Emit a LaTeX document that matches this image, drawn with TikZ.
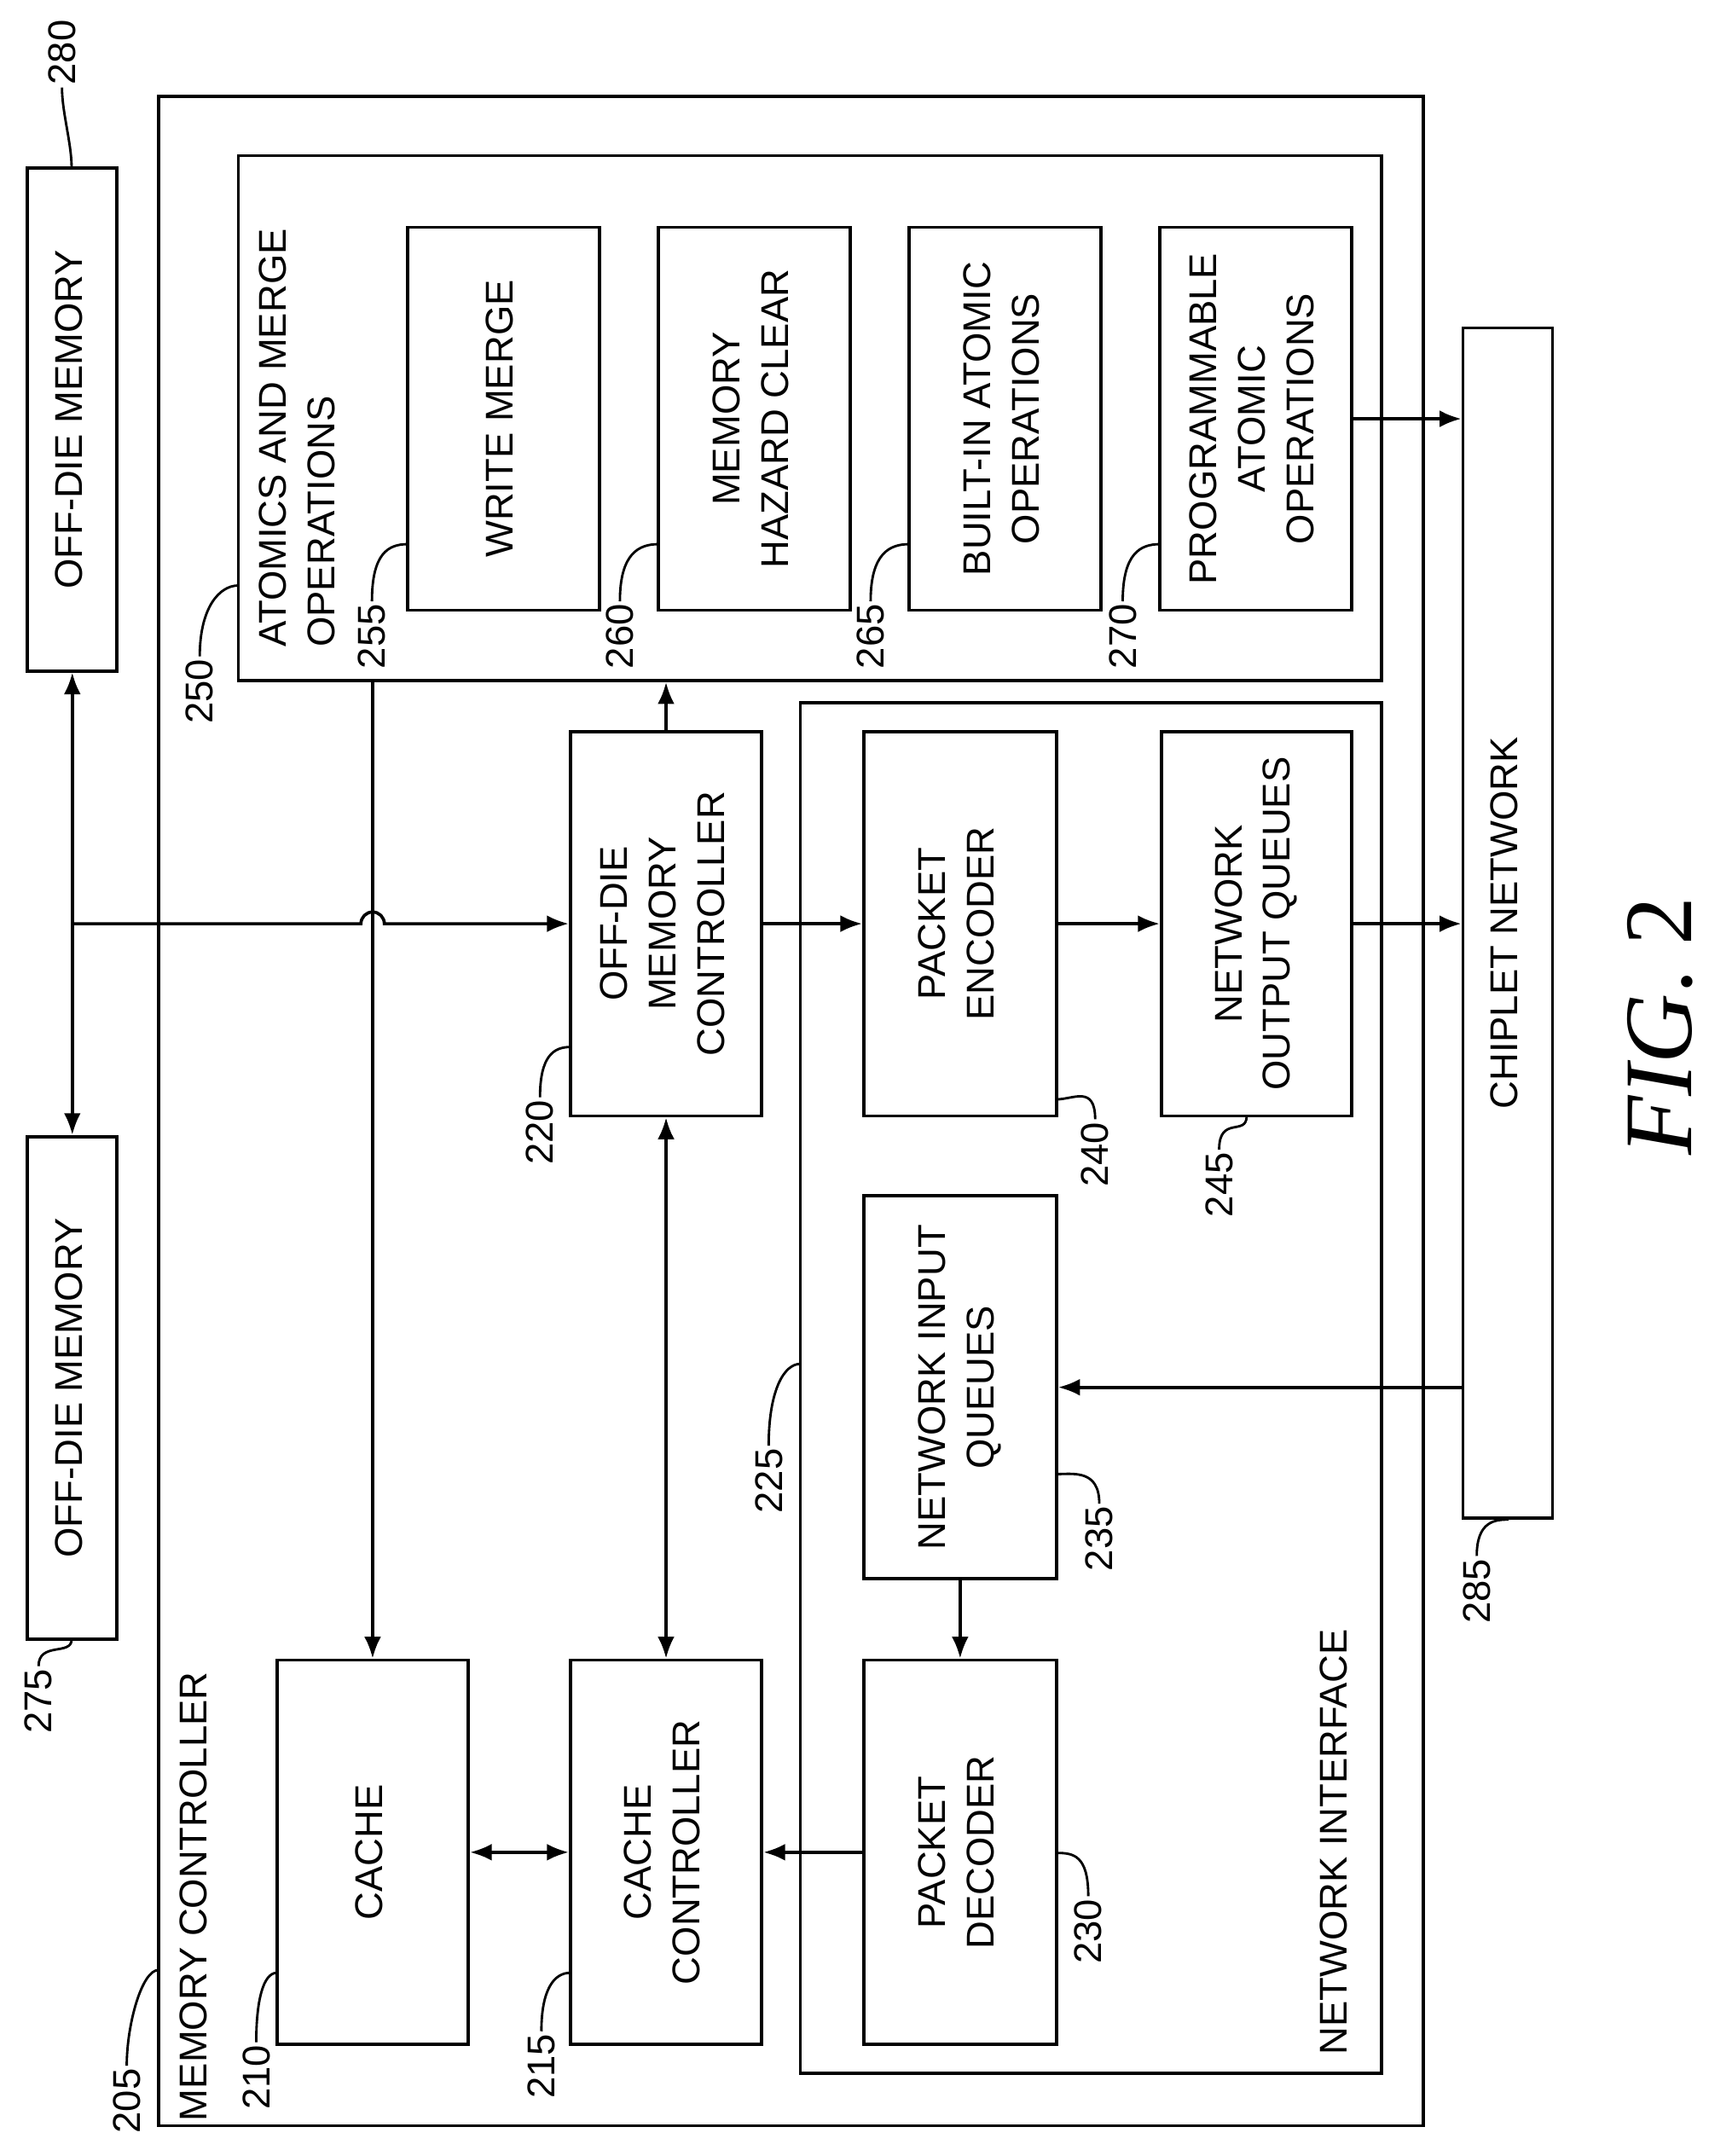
\documentclass[tikz,border=0pt]{standalone}
\usepackage{fontspec}
\setmainfont{Liberation Sans}
\newfontfamily\figfont{Liberation Serif}
\usetikzlibrary{arrows.meta}
\tikzset{
  box/.style={draw,line width=1.3pt,inner sep=0pt},
  num/.style={rotate=90,inner sep=1pt,font=\fontsize{16}{18}\selectfont},
  lbl/.style={rotate=90,inner sep=0pt,align=left,font=\fontsize{16}{20}\selectfont},
  arr/.style={line width=1.3pt,-{Latex[length=9pt,width=7pt]}},
  darr/.style={line width=1.3pt,{Latex[length=9pt,width=7pt]}-{Latex[length=9pt,width=7pt]}},
  lead/.style={line width=1pt}
}
\newcommand\blk[6]{\node[box,minimum width=#4*0.02cm,minimum height=#5*0.02cm,
  font=\fontsize{16}{20}\selectfont] (#1) at (#2,#3)
  {\rotatebox{90}{\begin{tabular}{@{}c@{}}#6\end{tabular}}};}
\begin{document}
\begin{tikzpicture}[x=0.02cm,y=-0.02cm]
\useasboundingbox (0,0) rectangle (1240,1565);

% outer blocks
\blk{mc}{574}{806.5}{918}{1473}{}
\blk{amo}{588}{303.5}{830}{381}{}
\blk{ni}{792}{1007.5}{422}{995}{}
\node[lbl,anchor=north west] (tmc) at (130,1540) {MEMORY CONTROLLER};
\node[lbl,anchor=north west] (tamo) at (188,470) {ATOMICS AND MERGE\\OPERATIONS};
\node[lbl,anchor=north west] (tni) at (958,1492) {NETWORK INTERFACE};

% memories and network
\blk{offb}{52.5}{304.5}{65}{365}{OFF-DIE MEMORY}
\blk{offa}{52.5}{1007.5}{65}{365}{OFF-DIE MEMORY}
\blk{cn}{1094.5}{670}{65}{864}{CHIPLET NETWORK}

% inner blocks
\blk{wm}{365.5}{304}{139}{278}{WRITE MERGE}
\blk{mhc}{547.5}{304}{139}{278}{MEMORY\\HAZARD CLEAR}
\blk{bia}{729.5}{304}{139}{278}{BUILT-IN ATOMIC\\OPERATIONS}
\blk{pao}{911.5}{304}{139}{278}{PROGRAMMABLE\\ATOMIC\\OPERATIONS}
\blk{odmc}{483.5}{670.5}{139}{279}{OFF-DIE\\MEMORY\\CONTROLLER}
\blk{pe}{697}{670.5}{140}{279}{PACKET\\ENCODER}
\blk{noq}{912}{670.5}{138}{279}{NETWORK\\OUTPUT QUEUES}
\blk{niq}{697}{1007}{140}{278}{NETWORK INPUT\\QUEUES}
\blk{pd}{697}{1344.5}{140}{279}{PACKET\\DECODER}
\blk{cache}{270.5}{1344.5}{139}{279}{CACHE}
\blk{cc}{483.5}{1344.5}{139}{279}{CACHE\\CONTROLLER}

% connectors
\draw[darr] (offb.south) -- (offa.north);
\coordinate (jn) at (offa.north |- odmc.west);
\draw[arr] (jn) -- (262,670.5) arc (180:360:8.5) -- (odmc.west);
\draw[arr] (amo.south -| cache.north) -- (cache.north);
\draw[arr] (odmc.north) -- (amo.south -| odmc.north);
\draw[arr] (odmc.east) -- (pe.west);
\draw[arr] (pe.east) -- (noq.west);
\draw[arr] (noq.east) -- (noq.east -| cn.west);
\draw[arr] (pao.east) -- (pao.east -| cn.west);
\draw[arr] (cn.west |- niq.east) -- (niq.east);
\draw[arr] (niq.south) -- (pd.north);
\draw[arr] (pd.west) -- (cc.east);
\draw[darr] (cc.west) -- (cache.east);
\draw[darr] (odmc.south) -- (cc.north);

% reference numbers
\node[num] (n280) at (45,38) {280};
\draw[lead] (n280.west) .. controls +(0,18) and +(0,-18) .. (52,122);
\node[num] (n275) at (28,1235) {275};
\draw[lead] (n275.east) .. controls +(0,-18) and +(0,12) .. (52,1190);
\node[num] (n205) at (92,1525) {205};
\draw[lead] (n205.east) .. controls +(0,-30) and +(-12,0) .. (115,1430);
\node[num] (n210) at (186,1508) {210};
\draw[lead] (n210.east) .. controls +(0,-30) and +(-10,0) .. (201,1432);
\node[num] (n215) at (393,1500) {215};
\draw[lead] (n215.east) .. controls +(0,-30) and +(-12,0) .. (414,1432);
\node[num] (n220) at (392,822) {220};
\draw[lead] (n220.east) .. controls +(0,-30) and +(-12,0) .. (414,760);
\node[num] (n230) at (790,1402) {230};
\draw[lead] (n230.east) .. controls +(0,-30) and +(12,0) .. (767,1345);
\node[num] (n235) at (798,1117) {235};
\draw[lead] (n235.east) .. controls +(0,-25) and +(12,0) .. (767,1070);
\node[num] (n240) at (795,838) {240};
\draw[lead] (n240.east) .. controls +(0,-25) and +(12,0) .. (767,798);
\node[num] (n245) at (885,860) {245};
\draw[lead] (n245.east) .. controls +(0,-25) and +(0,15) .. (905,810);
\node[num] (n225) at (558,1075) {225};
\draw[lead] (n225.east) .. controls +(0,-40) and +(-12,0) .. (581,990);
\node[num] (n250) at (145,502) {250};
\draw[lead] (n250.east) .. controls +(0,-35) and +(-14,0) .. (173,425);
\node[num] (n255) at (270,462) {255};
\draw[lead] (n255.east) .. controls +(0,-35) and +(-14,0) .. (296,395);
\node[num] (n260) at (450,462) {260};
\draw[lead] (n260.east) .. controls +(0,-35) and +(-14,0) .. (478,395);
\node[num] (n265) at (632,462) {265};
\draw[lead] (n265.east) .. controls +(0,-35) and +(-14,0) .. (660,395);
\node[num] (n270) at (815,462) {270};
\draw[lead] (n270.east) .. controls +(0,-35) and +(-14,0) .. (842,395);
\node[num] (n285) at (1072,1155) {285};
\draw[lead] (n285.east) .. controls +(0,-25) and +(-10,0) .. (1095,1103);

\node[rotate=90,font=\figfont\fontsize{40}{42}\selectfont] (fig) at (1205,745) {\textit{FIG}. 2};
\end{tikzpicture}
\end{document}
